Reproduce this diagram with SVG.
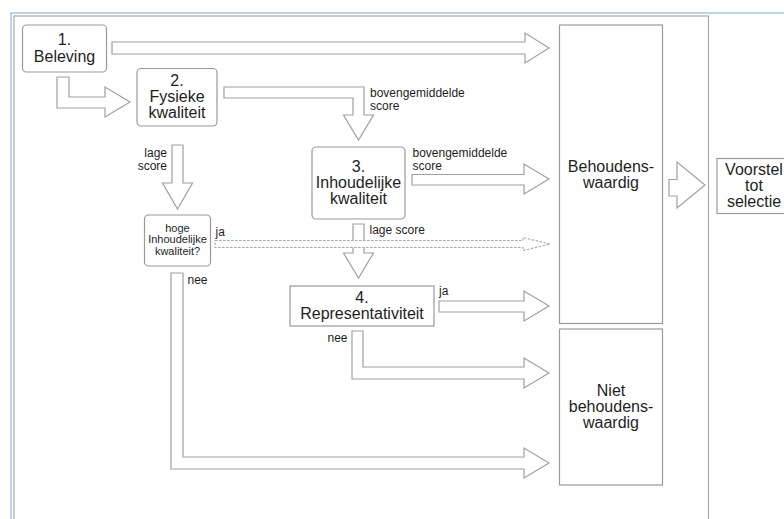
<svg xmlns="http://www.w3.org/2000/svg" width="784" height="519" viewBox="0 0 784 519">
<style>
.box{fill:#fff;stroke:#9a9a9a;stroke-width:1.2}
.arr{fill:#fff;stroke:#a0a0a0;stroke-width:1.2;stroke-linejoin:miter}
.dash{fill:#fff;stroke:#a8a8a8;stroke-width:1.1;stroke-dasharray:2.5 1.5}
.t{font-family:"Liberation Sans",Arial,sans-serif;font-size:16px;fill:#1e1e1e;text-anchor:middle}
.s{font-family:"Liberation Sans",Arial,sans-serif;font-size:12px;fill:#1e1e1e}
.xs{font-family:"Liberation Sans",Arial,sans-serif;font-size:11px;fill:#1e1e1e;text-anchor:middle}
</style>
<rect x="0" y="0" width="784" height="519" fill="#fff"/>
<rect x="11" y="13" width="800" height="520" fill="none" stroke="#8db8ec" stroke-width="1.2"/>
<rect x="14" y="16" width="694.5" height="520" fill="none" stroke="#a8a8a8" stroke-width="1.2"/>

<g id="connectors">
<polygon class="arr" points="112,42 525,42 525,33 549,48 525,63 525,54 112,54"/>
<polygon class="arr" points="57,77 69,77 69,97 105,97 105,87 130,102 105,117 105,108 57,108"/>
<polygon class="arr" points="224,87 364,87 364,115 373.5,115 358.5,140 343.5,115 353,115 353,98 224,98"/>
<polygon class="arr" points="172,145 183,145 183,183 192.5,183 177.5,209 162.5,183 172,183"/>
<polygon class="arr" points="353,224 364,224 364,253 373.5,253 358.5,278 343.5,253 353,253"/>
<polygon class="arr" points="412,174.5 524,174.5 524,164 549,179 524,194 524,185 412,185"/>
<polygon class="dash" points="215,240.5 523,240.5 523,237.5 550,244 523,250.5 523,247.5 215,247.5"/>
<polygon class="arr" points="439,301 524,301 524,291 549,306 524,321 524,312 439,312"/>
<polygon class="arr" points="352,331 363,331 363,367 524,367 524,358 549,373 524,388 524,379 352,379"/>
<polygon class="arr" points="171,273 183,273 183,457 524,457 524,448 549,463 524,478 524,469 171,469"/>
<polygon class="arr" points="669,179.5 677,179.5 677,162 705,185 677,208 677,196 669,196"/>
<text class="s" x="370" y="96.5">bovengemiddelde</text>
<text class="s" x="370" y="109.5">score</text>
<text class="s" x="167" y="157" text-anchor="end">lage</text>
<text class="s" x="167" y="170" text-anchor="end">score</text>
<text class="s" x="412.5" y="157">bovengemiddelde</text>
<text class="s" x="412.5" y="169.5">score</text>
<text class="s" x="215.5" y="236">ja</text>
<text class="s" x="369.5" y="234">lage score</text>
<text class="s" x="187.5" y="283.5">nee</text>
<text class="s" x="439" y="295">ja</text>
<text class="s" x="347.5" y="342" text-anchor="end">nee</text>
</g>

<g id="beleving">
<rect class="box" x="22.5" y="25" width="84" height="47" rx="4"/>
<text class="t" x="64.5" y="45">1.</text>
<text class="t" x="64.5" y="61.5">Beleving</text>
</g>
<g id="fysieke">
<rect class="box" x="137" y="68.5" width="80" height="57.5" rx="4"/>
<text class="t" x="177" y="86">2.</text>
<text class="t" x="177" y="102">Fysieke</text>
<text class="t" x="177" y="118">kwaliteit</text>
</g>
<g id="inhoudelijke">
<rect class="box" x="312" y="147" width="93" height="72" rx="4"/>
<text class="t" x="358.5" y="171.5">3.</text>
<text class="t" x="358.5" y="187.5">Inhoudelijke</text>
<text class="t" x="358.5" y="203.5">kwaliteit</text>
</g>
<g id="hoge">
<rect class="box" x="144.5" y="215" width="66" height="51" rx="4"/>
<text class="xs" x="177.5" y="231.5">hoge</text>
<text class="xs" x="177.5" y="243">Inhoudelijke</text>
<text class="xs" x="177.5" y="254.5">kwaliteit?</text>
</g>
<g id="representativiteit">
<rect class="box" x="290" y="286" width="144" height="40"/>
<text class="t" x="362" y="303">4.</text>
<text class="t" x="362" y="318.5">Representativiteit</text>
</g>
<g id="behoudenswaardig">
<rect class="box" x="559.5" y="25" width="103" height="298.5"/>
<text class="t" x="611" y="172">Behoudens-</text>
<text class="t" x="611" y="188">waardig</text>
</g>
<g id="niet">
<rect class="box" x="559.5" y="329" width="103" height="156"/>
<text class="t" x="611" y="395.5">Niet</text>
<text class="t" x="611" y="411.5">behoudens-</text>
<text class="t" x="611" y="427.5">waardig</text>
</g>
<g id="voorstel">
<rect class="box" x="717" y="158.5" width="80" height="55"/>
<text class="t" x="754" y="175">Voorstel</text>
<text class="t" x="754" y="191">tot</text>
<text class="t" x="754" y="207">selectie</text>
</g>
</svg>
